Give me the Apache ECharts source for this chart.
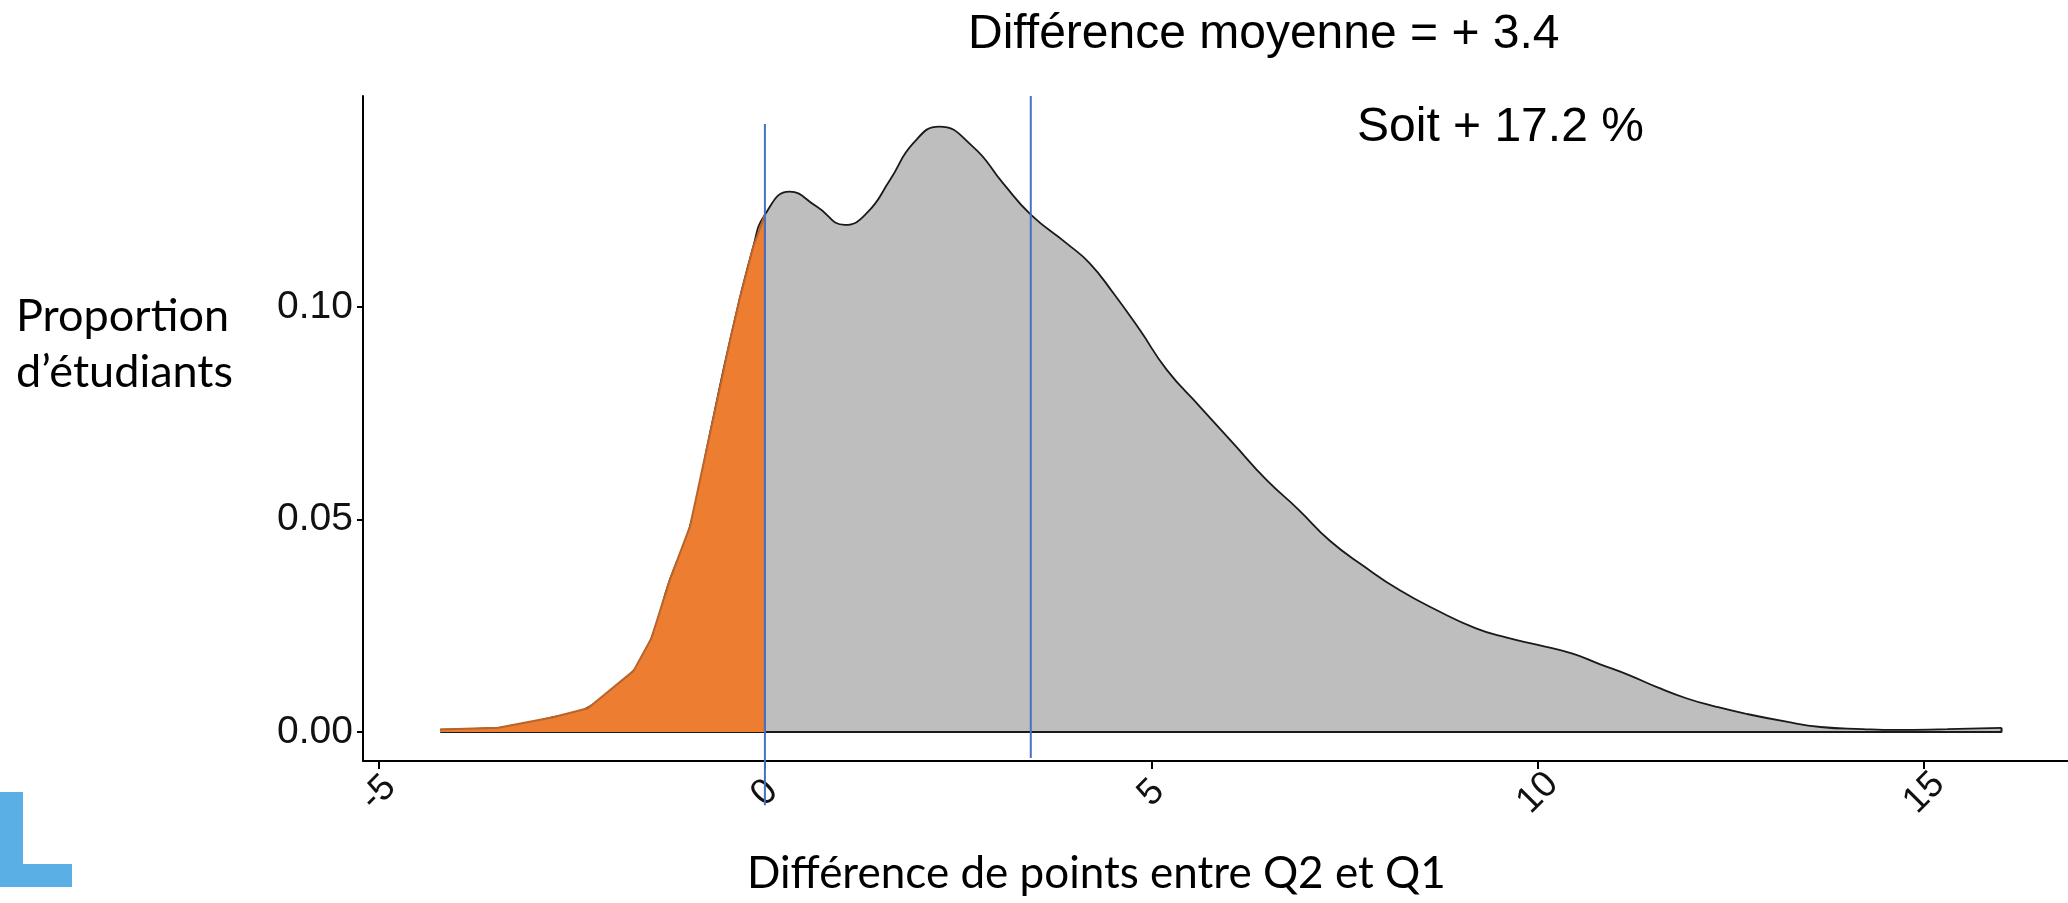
<!DOCTYPE html>
<html lang="fr">
<head>
    <meta charset="UTF-8">
    <title>Différence de points entre Q2 et Q1</title>
    <style>
        html, body {
            margin: 0;
            padding: 0;
            background: #ffffff;
        }
        #main {
            width: 2068px;
            height: 903px;
        }
    </style>
    <script type="text/javascript" src="https://cdn.jsdelivr.net/npm/echarts@6/dist/echarts.min.js"></script>
</head>
<body>
<div id="main"></div>
<script type="text/javascript">
    // density of the score difference (Q2 - Q1)
    var densX = [-4.2, -3.45, -2.74, -2.29, -1.7, -1.47, -1.23, -0.97, -0.71, -0.45, -0.15, 0,
        0.32, 0.67, 1.035, 1.32, 1.62, 1.92, 2.255, 2.69, 3.08, 3.44, 3.9, 4.2, 4.51, 4.85,
        5.2, 5.63, 6.06, 6.49, 6.9, 7.31, 7.75, 8.21, 8.7, 9.2, 9.6, 10.0, 10.44, 10.8,
        11.18, 11.55, 11.93, 12.3, 12.67, 13.2, 13.66, 14.2, 14.65, 15.3, 16.0];
    var densY = [0.0006, 0.001, 0.0035, 0.0058, 0.0144, 0.022, 0.0358, 0.0483, 0.0703, 0.0922, 0.1142, 0.1217,
        0.1271, 0.1236, 0.1193, 0.1221, 0.1299, 0.1385, 0.1424, 0.1377, 0.1291, 0.1217, 0.115, 0.1103, 0.1032, 0.0946,
        0.0852, 0.0765, 0.0679, 0.0593, 0.0524, 0.045, 0.039, 0.0334, 0.0286, 0.0244, 0.0222, 0.0205, 0.0185, 0.016,
        0.0134, 0.0105, 0.0079, 0.006, 0.0044, 0.0025, 0.0012, 0.0007, 0.0005, 0.0007, 0.001];

    // negative part (hand drawn orange polygon)
    var negX = [-4.2, -3.45, -2.74, -2.29, -1.7, -1.47, -1.23, -0.97, -0.84, -0.71, -0.58, -0.45, -0.32, -0.15, 0, 0];
    var negY = [0.0006, 0.001, 0.0035, 0.0056, 0.0144, 0.022, 0.0358, 0.0483, 0.0593, 0.0703, 0.0812, 0.0922, 0.1024, 0.1142, 0.1217, 0.0006];

    var xTicks = [-5, 0, 5, 10, 15];
    var yTicks = [0, 0.05, 0.10];

    // vertical reference lines
    var zeroX = 0;
    var zeroLineY = [0.143, -0.0172];
    var meanX = 3.44;
    var meanLineY = [0.1496, -0.0061];

    var titleMean = 'Différence moyenne = + 3.4';
    var titlePct = 'Soit + 17.2 %';
    var xName = 'Différence de points entre Q2 et Q1';
    // zero width non joiner keeps Lato from using its "ti" ligature
    var yName = ['Propor\u200Ction', 'd\u2019étudiants'];

    function pairs(xs, ys) {
        var out = [];
        for (var i = 0; i < xs.length; i++) {
            out.push([xs[i], ys[i]]);
        }
        return out;
    }

    var chart = echarts.init(document.getElementById('main'));

    var option = {
        animation: false,
        backgroundColor: '#ffffff',
        grid: {
            left: 363,
            right: 0,
            top: 96,
            bottom: 142
        },
        xAxis: {
            type: 'value',
            min: -5.2,
            max: 16.86,
            splitLine: {show: false},
            axisLine: {onZero: false, lineStyle: {color: '#000', width: 2}},
            axisTick: {customValues: xTicks, length: 8, lineStyle: {color: '#000', width: 2}},
            axisLabel: {
                customValues: xTicks,
                rotate: 45,
                margin: 32,
                align: 'center',
                verticalAlign: 'middle',
                color: '#111',
                fontFamily: 'Liberation Sans',
                fontSize: 37
            }
        },
        yAxis: {
            type: 'value',
            min: -0.0068,
            max: 0.1496,
            splitLine: {show: false},
            axisLine: {onZero: false, lineStyle: {color: '#000', width: 2}},
            axisTick: {customValues: yTicks, length: 6, lineStyle: {color: '#000', width: 2}},
            axisLabel: {
                customValues: yTicks,
                margin: 10,
                color: '#111',
                fontFamily: 'Liberation Sans',
                fontSize: 39,
                formatter: function (v) { return v.toFixed(2); }
            }
        },
        series: [
            {
                name: 'density',
                type: 'line',
                data: pairs(densX, densY),
                smooth: 0.5,
                showSymbol: false,
                lineStyle: {color: '#1a1a1a', width: 1.8},
                areaStyle: {color: '#bebebe', opacity: 1},
                z: 2
            },
            {
                name: 'baseline',
                type: 'line',
                data: [[densX[0], 0], [densX[densX.length - 1], 0], [densX[densX.length - 1], densY[densY.length - 1]]],
                showSymbol: false,
                lineStyle: {color: '#1a1a1a', width: 2},
                z: 3
            },
            {
                name: 'negative',
                type: 'line',
                data: pairs(negX, negY),
                showSymbol: false,
                lineStyle: {color: '#b8642a', width: 2},
                areaStyle: {color: '#ed7d31', opacity: 1},
                z: 4
            },
            {
                name: 'zero',
                type: 'line',
                data: [[zeroX, zeroLineY[0]], [zeroX, zeroLineY[1]]],
                showSymbol: false,
                clip: false,
                lineStyle: {color: '#4472c4', width: 2},
                z: 5
            },
            {
                name: 'mean',
                type: 'line',
                data: [[meanX, meanLineY[0]], [meanX, meanLineY[1]]],
                showSymbol: false,
                clip: false,
                lineStyle: {color: '#4472c4', width: 2},
                z: 5
            }
        ],
        graphic: [
            {
                type: 'text', left: 968, top: 11,
                style: {text: titleMean, font: '48px "Liberation Sans"', fill: '#000'}
            },
            {
                type: 'text', left: 1357, top: 104,
                style: {text: titlePct, font: '48px "Liberation Sans"', fill: '#000'}
            },
            {
                type: 'text', left: 16, top: 288,
                style: {text: yName.join('\n'), font: '45px Lato', lineHeight: 56, fill: '#000'}
            },
            {
                type: 'text', left: 747, top: 852,
                style: {text: xName, font: '44px Lato', fill: '#000'}
            },
            {
                type: 'rect', left: 0, top: 792,
                shape: {width: 23, height: 95},
                style: {fill: '#5aafe4'}
            },
            {
                type: 'rect', left: 0, top: 864,
                shape: {width: 72, height: 23},
                style: {fill: '#5aafe4'}
            }
        ]
    };
    chart.setOption(option);
</script>
</body>
</html>
